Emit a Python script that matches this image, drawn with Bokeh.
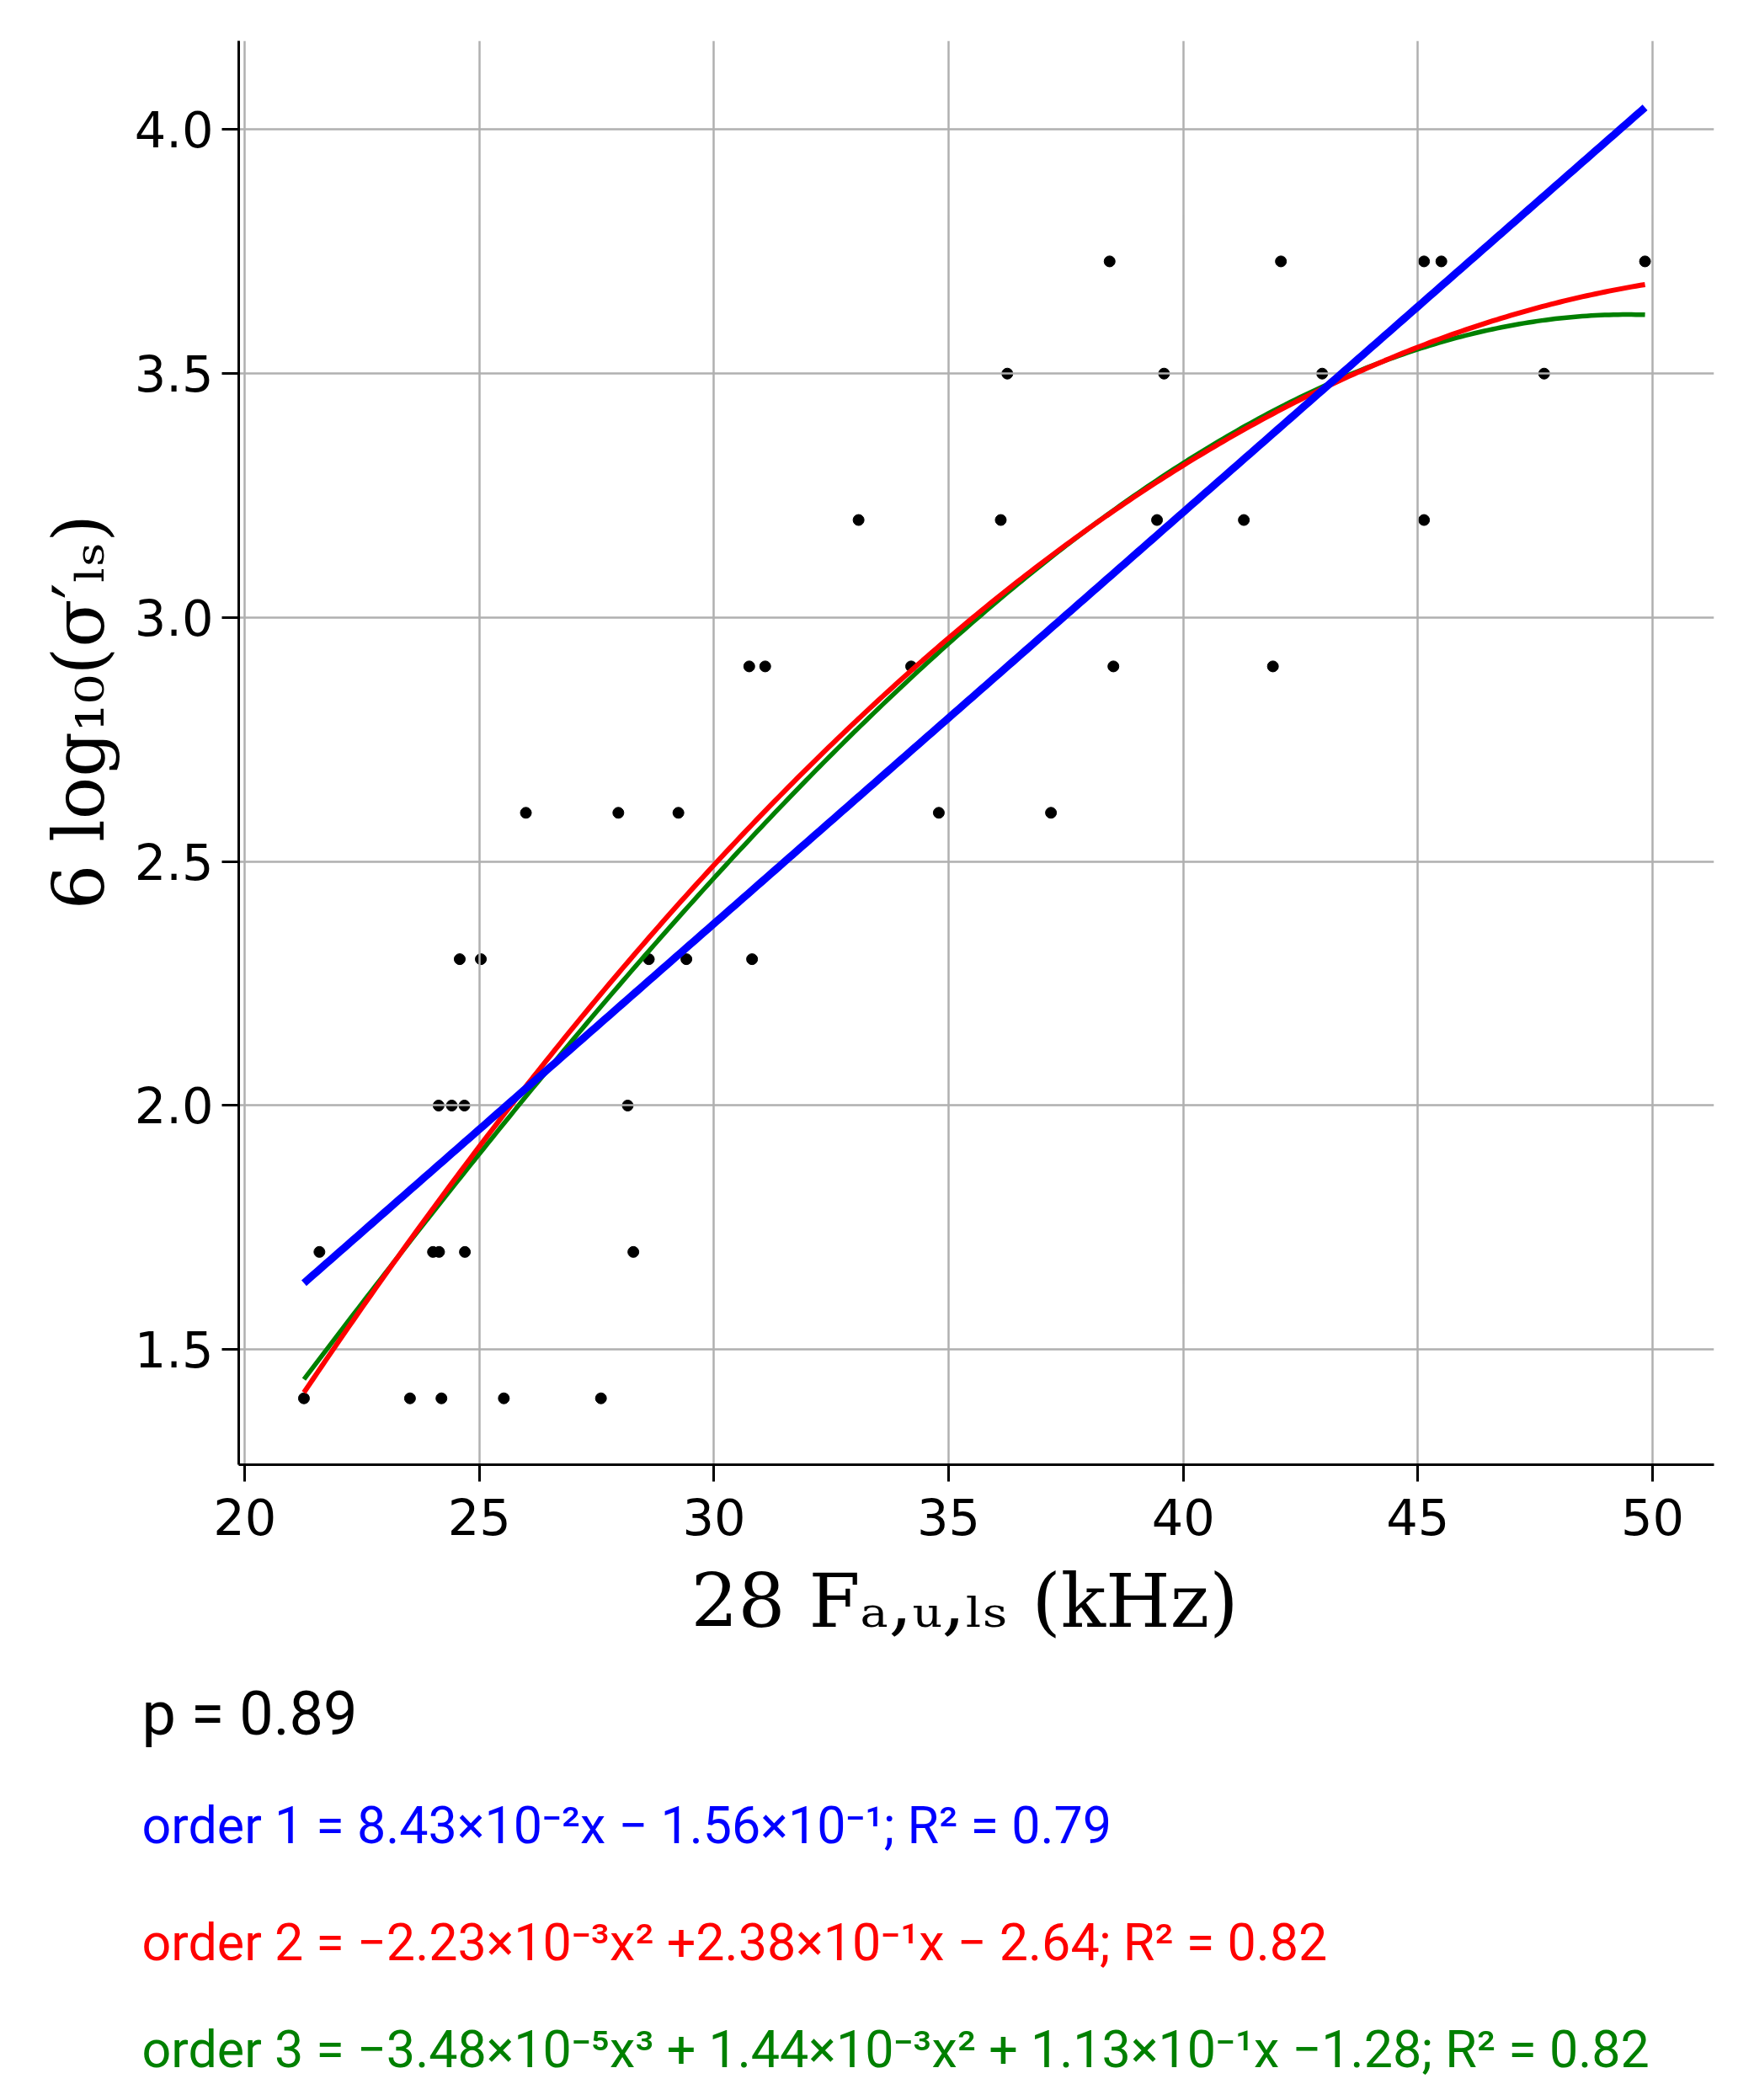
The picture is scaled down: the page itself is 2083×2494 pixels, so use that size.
import numpy as np
from bokeh.plotting import figure
from bokeh.models import Range1d, FixedTicker, Title
from bokeh.embed import file_html
from bokeh.resources import INLINE

# ---------------- data ----------------
y_levels = [1.4, 1.7, 2.0, 2.3, 2.6, 2.9, 3.2, 3.5, 3.73]
x_at_140 = [21.26, 23.52, 24.19, 25.52, 27.59]
x_at_170 = [21.59, 24.01, 24.14, 24.69, 28.28]
x_at_200 = [24.13, 24.41, 24.68, 28.16]
x_at_230 = [24.58, 25.03, 28.61, 29.41, 30.81]
x_at_260 = [25.99, 27.96, 29.24, 34.79, 37.18]
x_at_290 = [30.75, 31.09, 34.20, 38.51, 41.91]
x_at_320 = [33.08, 36.11, 39.44, 41.29, 45.13]
x_at_350 = [36.25, 39.59, 42.96, 47.69]
x_at_373 = [38.43, 42.08, 45.13, 45.50, 49.84]
x_rows = [x_at_140, x_at_170, x_at_200, x_at_230, x_at_260,
          x_at_290, x_at_320, x_at_350, x_at_373]

# polynomial fit coefficients printed on the chart (highest power first)
order1_coef = [8.43e-2, -1.56e-1]
order2_coef = [-2.23e-3, 2.38e-1, -2.64]
order3_coef = [-3.48e-5, 1.44e-3, 1.13e-1, -1.28]

x_ticks = [20, 25, 30, 35, 40, 45, 50]
x_tick_labels = ["20", "25", "30", "35", "40", "45", "50"]
y_ticks = [1.5, 2.0, 2.5, 3.0, 3.5, 4.0]
y_tick_labels = ["1.5", "2.0", "2.5", "3.0", "3.5", "4.0"]

x_label = "28 Fₐ,ᵤ,ₗₛ  (kHz)"
y_label = "6 log₁₀(σ′ₗₛ)"
eq_p = "p = 0.89"
eq_1 = "order  1 = 8.43×10⁻²x − 1.56×10⁻¹; R² = 0.79"
eq_2 = "order  2 = −2.23×10⁻³x² +2.38×10⁻¹x − 2.64; R² = 0.82"
eq_3 = "order  3 = −3.48×10⁻⁵x³ + 1.44×10⁻³x² + 1.13×10⁻¹x −1.28; R² = 0.82"

# ---------------- build ----------------
x_all, y_all = [], []
for yv, xs in zip(y_levels, x_rows):
    x_all += xs
    y_all += [yv] * len(xs)

x_fit = np.linspace(min(x_all), max(x_all), 300)
y1 = np.polyval(order1_coef, x_fit)
y2 = np.polyval(order2_coef, x_fit)
y3 = np.polyval(order3_coef, x_fit)

W, H = 2067, 2478
FL, FR, FT, FB = 291, 2043, 56, 1747   # frame edges in page coordinates

p = figure(width=W, height=H,
           x_range=Range1d(19.87, 51.31), y_range=Range1d(1.264, 4.182),
           output_backend="svg", toolbar_location=None,
           min_border_left=FL - 8, min_border_right=W + 8 - FR,
           min_border_top=FT - 8, min_border_bottom=H + 8 - FB)
p.outline_line_color = None

for ax, ticks, labels, standoff in ((p.xaxis, x_ticks, x_tick_labels, 20),
                                    (p.yaxis, y_ticks, y_tick_labels, 10)):
    ax.ticker = FixedTicker(ticks=ticks)
    ax.major_label_overrides = {t: l for t, l in zip(ticks, labels)}
    ax.axis_line_color = "black"
    ax.axis_line_width = 3
    ax.major_tick_line_color = "black"
    ax.major_tick_line_width = 3
    ax.major_tick_out = 20
    ax.major_tick_in = 0
    ax.minor_tick_out = 0
    ax.minor_tick_in = 0
    ax.major_label_text_font = "DejaVu Sans"
    ax.major_label_text_font_size = "59px"
    ax.major_label_text_color = "black"
    ax.major_label_standoff = standoff
    ax.axis_label_text_font = "DejaVu Serif"
    ax.axis_label_text_font_style = "normal"
    ax.axis_label_text_color = "black"

# leading no-break spaces move the centred y label up, as in the reference
p.xaxis.axis_label = x_label
p.xaxis.axis_label_text_font_size = "88px"
p.xaxis.axis_label_standoff = 24
p.yaxis.axis_label = "\u00a0" * 3 + "\u202f" + y_label
p.yaxis.axis_label_text_font_size = "84px"
p.yaxis.axis_label_standoff = 14

p.xgrid.ticker = FixedTicker(ticks=x_ticks)
p.ygrid.ticker = FixedTicker(ticks=y_ticks)
for g in (p.xgrid, p.ygrid):
    g.grid_line_color = "#b0b0b0"
    g.grid_line_width = 2.5

sc = p.scatter(x_all, y_all, size=13, color="black")
sc.level = "image"
p.line(x_fit, y3, line_color="#008000", line_width=5.5)
p.line(x_fit, y2, line_color="#ff0000", line_width=6)
p.line(x_fit, y1, line_color="#0000ff", line_width=9)

# fit equations, stacked below the x axis
eq_font = "Roboto"
for text, color, size, standoff in ((eq_p, "black", 72, 71),
                                    (eq_1, "#0000ff", 61, 32),
                                    (eq_2, "#ff0000", 61, 99),
                                    (eq_3, "#008000", 61, 6)):
    p.add_layout(Title(text=text, align="left", offset=176 - FL,
                       standoff=standoff, text_font=eq_font,
                       text_font_size=f"{size}px", text_font_style="normal",
                       text_color=color), "below")

open("out.html", "w").write(file_html(p, INLINE))
